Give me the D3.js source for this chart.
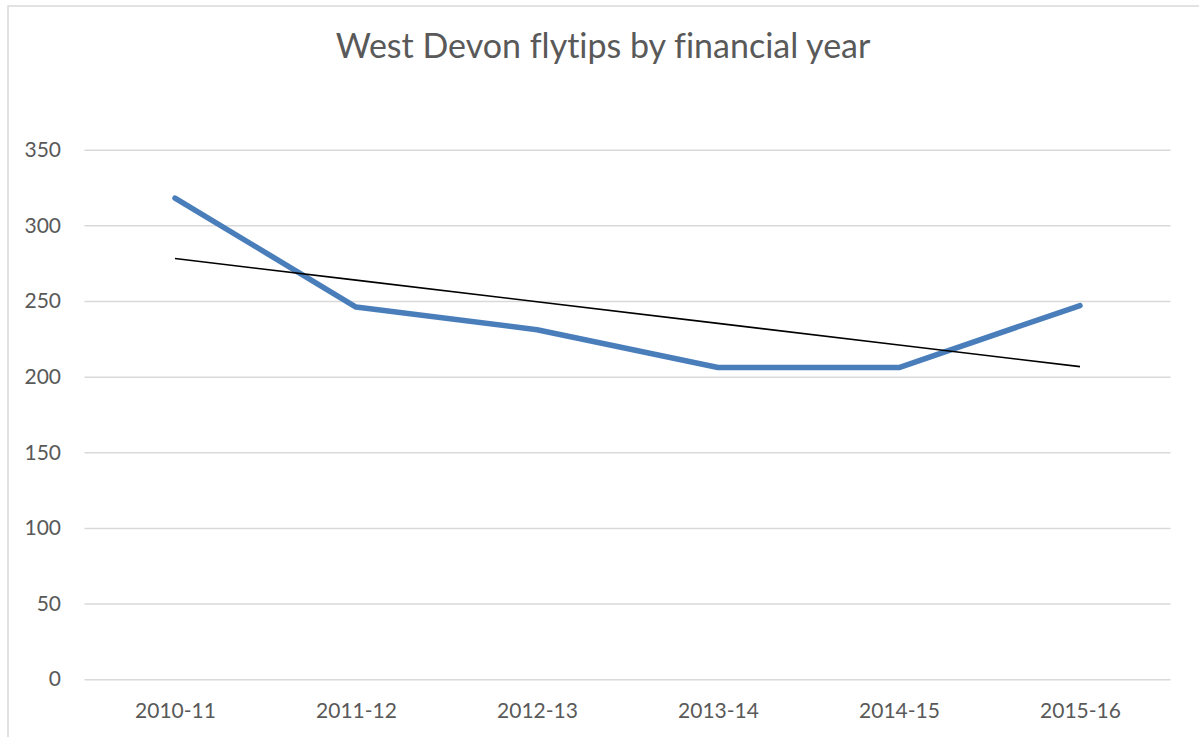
<!DOCTYPE html>
<html>
<head>
<meta charset="utf-8">
<script src="https://cdn.jsdelivr.net/npm/d3@7"></script>
<style>
  html, body { margin: 0; padding: 0; background: #fff; }
  svg { display: block; }
  text { font-family: Lato, "Open Sans", sans-serif; fill: #595959; font-variant-ligatures: none; }
</style>
</head>
<body>
<svg id="chart" width="1199" height="737"></svg>
<script>
const title = "West Devon flytips by financial year";
const years = ["2010-11", "2011-12", "2012-13", "2013-14", "2014-15", "2015-16"];
const flytips = [318, 246, 231, 206, 206, 247];
const yTicks = [0, 50, 100, 150, 200, 250, 300, 350];

const W = 1199, H = 737;
const margin = { left: 84.5, right: 1170.5, top: 149.7, bottom: 679.2 };

const svg = d3.select("#chart");

// outer chart border
svg.append("rect")
  .attr("x", 8).attr("y", 6)
  .attr("width", W + 10).attr("height", H + 10)
  .attr("fill", "none").attr("stroke", "#d9d9d9").attr("stroke-width", 1.5);

const x = d3.scalePoint().domain(years).range([margin.left, margin.right]).padding(0.5);
const y = d3.scaleLinear().domain([0, 350]).range([margin.bottom, margin.top]);

// gridlines + y labels
const yAxis = d3.axisLeft(y).tickValues(yTicks).tickSize(-(margin.right - margin.left)).tickPadding(23.5);
const gy = svg.append("g").attr("transform", `translate(${margin.left},0)`).call(yAxis);
gy.select(".domain").remove();
gy.selectAll(".tick line").attr("stroke", "#d9d9d9").attr("stroke-width", 1.5);
gy.selectAll(".tick text").attr("font-size", 21).attr("fill", "#595959")
  .style("font-family", "Lato, 'Open Sans', sans-serif");

// x axis labels
const xAxis = d3.axisBottom(x).tickSize(0).tickPadding(24);
const gx = svg.append("g").attr("transform", `translate(0,${margin.bottom})`).call(xAxis);
gx.select(".domain").remove();
gx.selectAll(".tick text").attr("font-size", 21).attr("fill", "#595959")
  .style("font-family", "Lato, 'Open Sans', sans-serif");

// data line
const line = d3.line().x((d, i) => x(years[i])).y(d => y(d));
svg.append("path").datum(flytips)
  .attr("d", line)
  .attr("fill", "none")
  .attr("stroke", "#4a7ebb")
  .attr("stroke-width", 5.5)
  .attr("stroke-linecap", "round")
  .attr("stroke-linejoin", "round");

// linear trendline (least squares, as Excel)
const n = flytips.length;
const xs = d3.range(1, n + 1);
const mx = d3.mean(xs), my = d3.mean(flytips);
const slope = d3.sum(xs.map((v, i) => (v - mx) * (flytips[i] - my))) / d3.sum(xs.map(v => (v - mx) ** 2));
const intercept = my - slope * mx;
const trend = xs.map(v => intercept + slope * v);
svg.append("path").datum(trend)
  .attr("d", line)
  .attr("fill", "none")
  .attr("stroke", "#000")
  .attr("stroke-width", 1.6);

// title
svg.append("text")
  .attr("x", 603).attr("y", 58)
  .attr("text-anchor", "middle")
  .attr("font-size", 34)
  .attr("fill", "#595959")
  .text(title);
</script>
</body>
</html>
